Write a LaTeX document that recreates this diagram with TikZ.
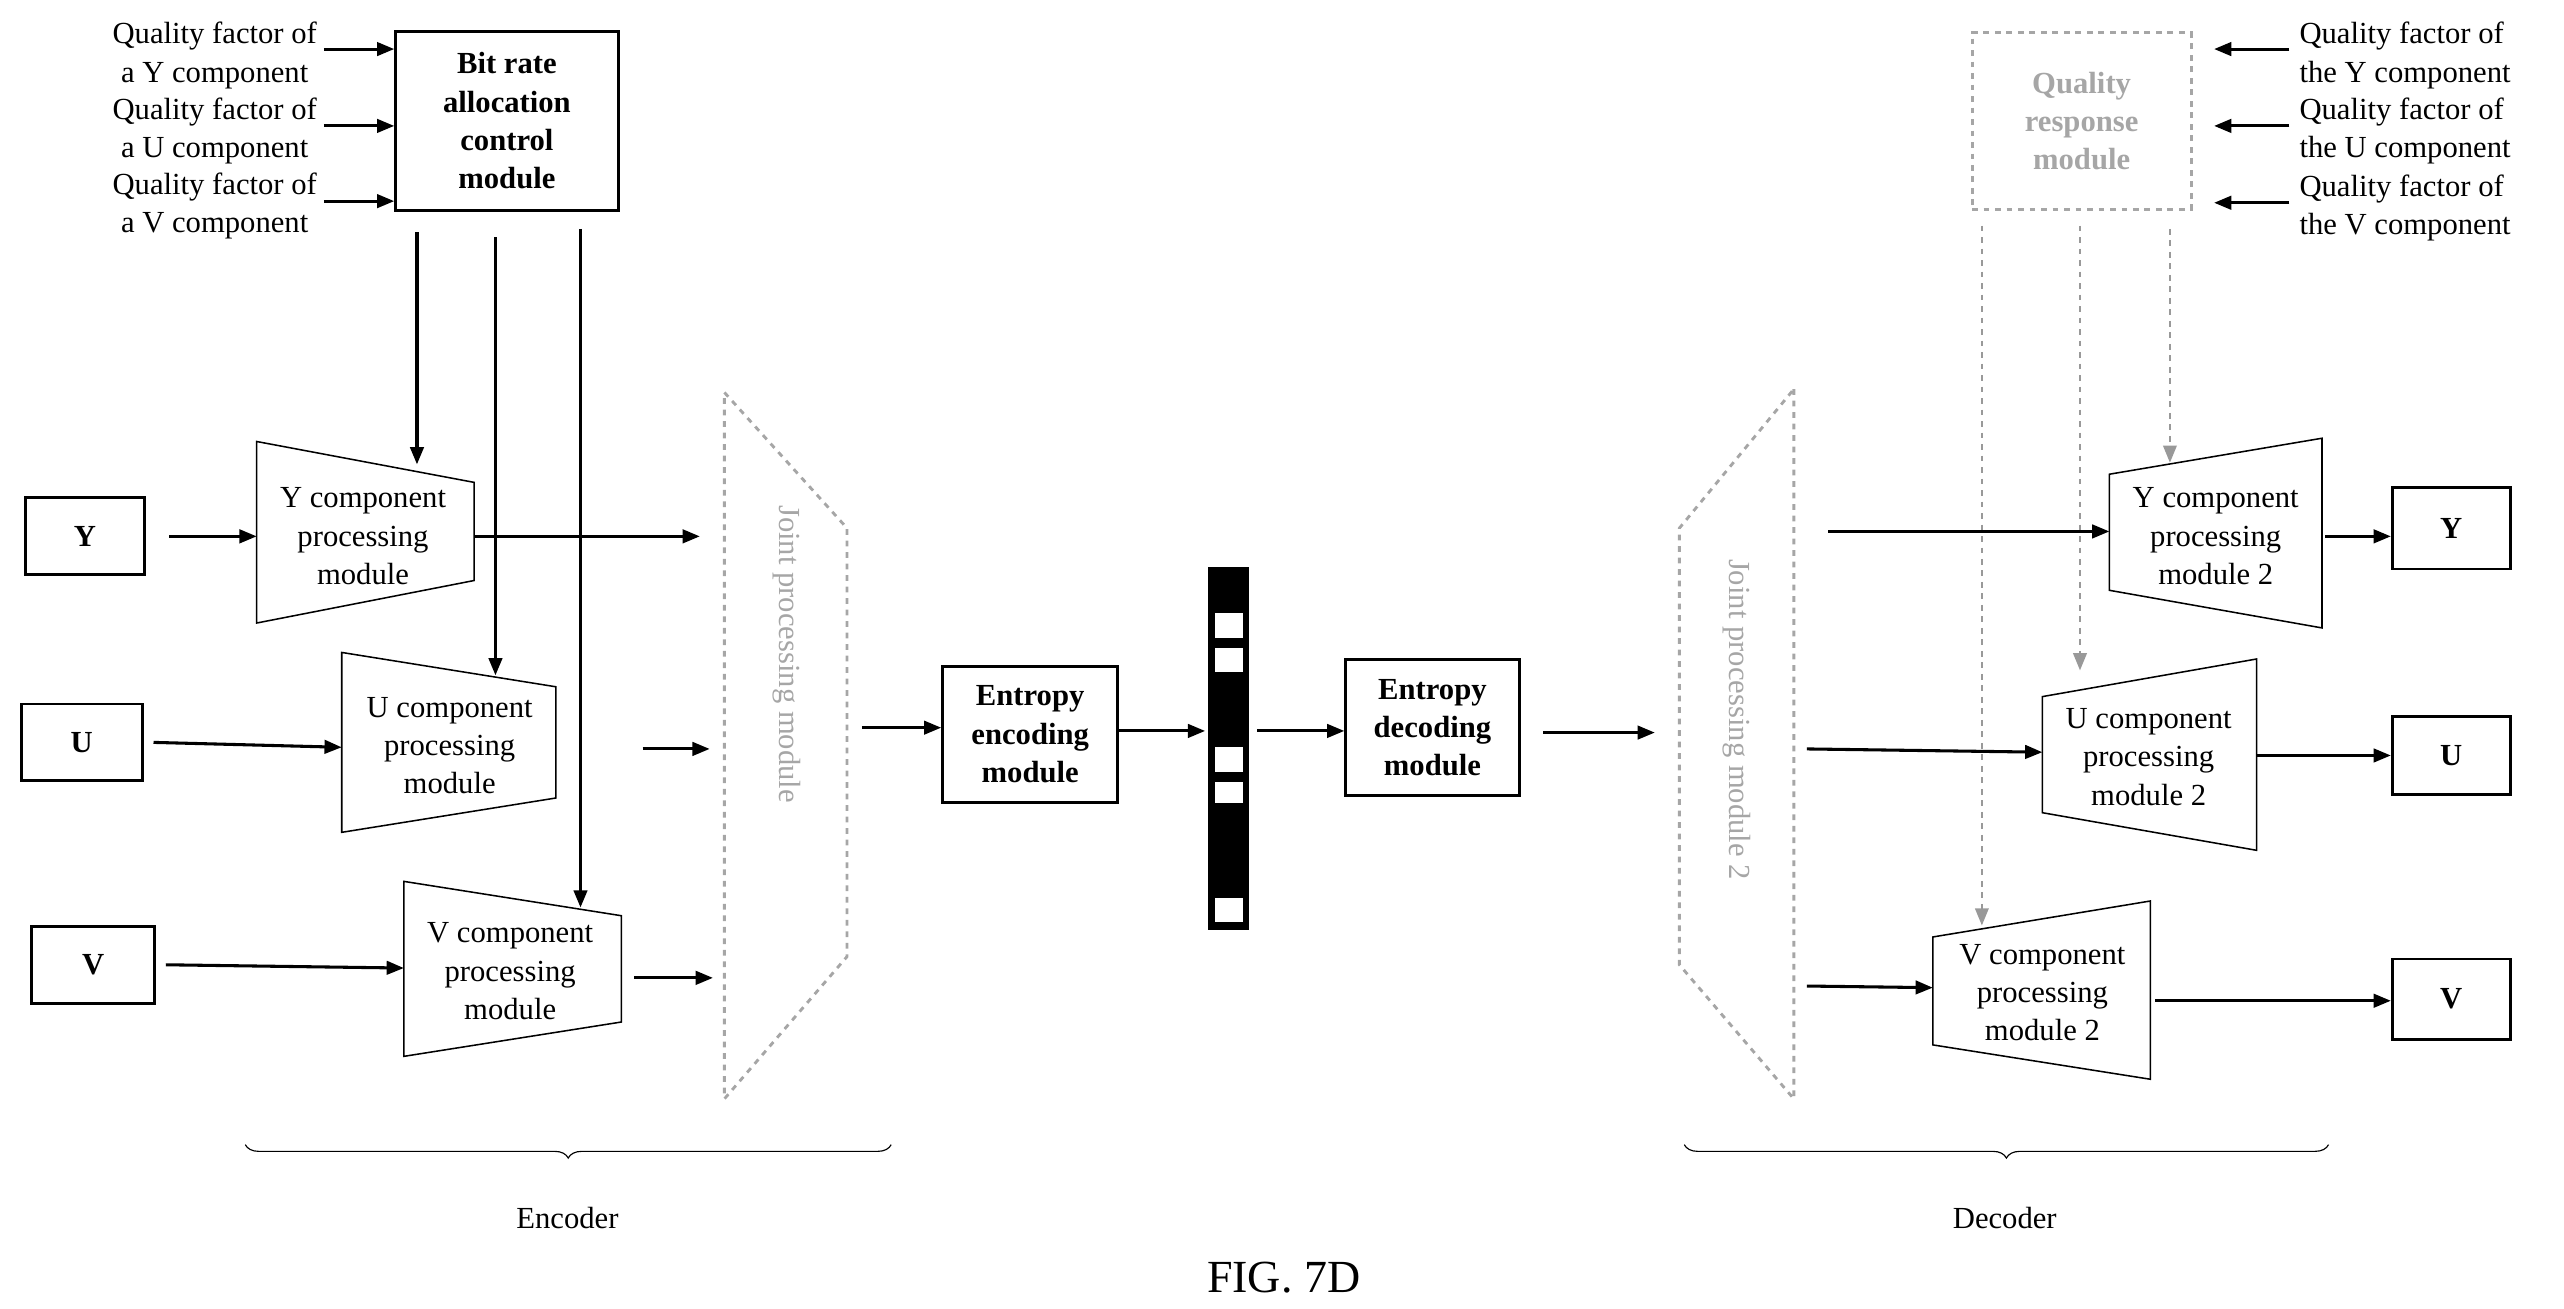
\documentclass[tikz,border=0pt]{standalone}
\usepackage{fontspec}
\setmainfont{Liberation Serif}
\usetikzlibrary{positioning, arrows.meta, decorations.pathreplacing}
\tikzset{
  box/.style={rectangle, draw=black, line width=1.5pt, font=\fontsize{16}{20}\selectfont\bfseries, align=center, inner sep=0pt},
  gbox/.style={rectangle, draw=gray!70, dashed, line width=1.5pt, font=\fontsize{16}{20}\selectfont\bfseries, text=gray!70, align=center, inner sep=0pt},
  lbl/.style={align=center, inner sep=0pt},
  arr/.style={-{Triangle[length=9pt,width=7pt]}, line width=1.6pt},
  garr/.style={-{Triangle[length=9pt,width=7pt]}, line width=1.3pt, gray!80, dashed},
  trap/.style={draw=black, line width=0.8pt},
  joint/.style={draw=gray!70, dashed, line width=1.5pt},
}
\begin{document}
\begin{tikzpicture}[x=0.3mm, y=-0.3mm, font=\fontsize{16}{20}\selectfont]
\useasboundingbox (0,0) rectangle (1568,800);

% encoder inputs
\node[box, minimum width=136*0.3mm, minimum height=109*0.3mm] (bitrate) at (310,74) {Bit rate\\allocation\\control\\module};
\node[lbl, anchor=east] (qy) at (194,34) {Quality factor of\\a Y component};
\node[lbl, anchor=east] (qu) at (194,80) {Quality factor of\\a U component};
\node[lbl, anchor=east] (qv) at (194,126) {Quality factor of\\a V component};
\draw[arr] (198,30) -- (bitrate.west |- 0,30);
\draw[arr] (198,77) -- (bitrate.west |- 0,77);
\draw[arr] (198,123) -- (bitrate.west |- 0,123);

\node[box, minimum width=73*0.3mm, minimum height=47*0.3mm] (yin) at (52,328) {Y};
\node[box, minimum width=74*0.3mm, minimum height=47*0.3mm] (uin) at (50,454) {U};
\node[box, minimum width=75*0.3mm, minimum height=47*0.3mm] (vin) at (57,590) {V};

% component trapezoids
\draw[trap] (157,270) -- (290,295) -- (290,355) -- (157,381) -- cycle;
\node[lbl] (yproc) at (222,328) {Y component\\processing\\module};
\draw[trap] (209,399) -- (340,420) -- (340,488) -- (209,509) -- cycle;
\node[lbl] (uproc) at (275,456) {U component\\processing\\module};
\draw[trap] (247,539) -- (380,560) -- (380,625) -- (247,646) -- cycle;
\node[lbl] (vproc) at (312,594) {V component\\processing\\module};

\draw[arr] (yin.east) ++(14,0) -- (157,328);
\draw[arr] (uin.east) ++(6,0) -- (209,457);
\draw[arr] (vin.east) ++(6,0) -- (247,592);

\coordinate (yt) at (255,284);
\coordinate (ut) at (303,413);
\coordinate (vt) at (355,555);
\draw[arr] (255,142) -- (yt);
\draw[arr] (303,145) -- (ut);
\draw[arr] (355,140) -- (vt);

% joint processing module
\draw[joint] (443,240) -- (518,323) -- (518,585) -- (443,672) -- cycle;
\node[rotate=-90, text=gray!70] (joint) at (481,400) {Joint processing module};
\draw[arr] (290,328) -- (428,328);
\draw[arr] (393,458) -- (434,458);
\draw[arr] (388,598) -- (436,598);

% entropy coding
\node[box, minimum width=107*0.3mm, minimum height=83*0.3mm] (enc) at (630,449) {Entropy\\encoding\\module};
\draw[arr] (527,445) -- (enc.west |- 0,445);
\fill (739,347) rectangle (764,569);
\coordinate (barw) at (737,447);
\coordinate (bare) at (769,447);
\foreach \ya/\yb in {375/390, 396/411, 457/472, 478/491, 549/564}
  \fill[white] (743,\ya) rectangle (760,\yb);
\draw[arr] (enc.east |- 0,447) -- (barw);
\node[box, minimum width=106*0.3mm, minimum height=83*0.3mm] (dec) at (876,445) {Entropy\\decoding\\module};
\draw[arr] (bare) -- (dec.west |- 0,447);
\draw[arr] (dec.east) ++(14,3) -- (1012,448);

% joint processing module 2
\draw[joint] (1097,238) -- (1097,672) -- (1027,590) -- (1027,323) -- cycle;
\node[rotate=-90, text=gray!70] (joint2) at (1062,440) {Joint processing module 2};

% decoder trapezoids
\draw[trap] (1290,290) -- (1420,268) -- (1420,384) -- (1290,361) -- cycle;
\node[lbl] (yproc2) at (1355,328) {Y component\\processing\\module 2};
\draw[trap] (1249,426) -- (1380,403) -- (1380,520) -- (1249,497) -- cycle;
\node[lbl] (uproc2) at (1314,463) {U component\\processing\\module 2};
\draw[trap] (1182,573) -- (1315,551) -- (1315,660) -- (1182,639) -- cycle;
\node[lbl] (vproc2) at (1249,607) {V component\\processing\\module 2};

\node[box, minimum width=72*0.3mm, minimum height=50*0.3mm] (yout) at (1499,323) {Y};
\node[box, minimum width=72*0.3mm, minimum height=48*0.3mm] (uout) at (1499,462) {U};
\node[box, minimum width=72*0.3mm, minimum height=49*0.3mm] (vout) at (1499,611) {V};
\draw[arr] (1118,325) -- (1290,325);
\draw[arr] (1105,458) -- (1249,460);
\draw[arr] (1105,603) -- (1182,604);
\draw[arr] (1422,328) -- (yout.west |- 0,328);
\draw[arr] (1380,462) -- (uout.west);
\draw[arr] (1318,612) -- (vout.west |- 0,612);

% quality response
\node[gbox, minimum width=134*0.3mm, minimum height=108*0.3mm] (qresp) at (1273,74) {Quality\\response\\module};
\node[lbl, anchor=west, align=left] (qy2) at (1406,34) {Quality factor of\\the Y component};
\node[lbl, anchor=west, align=left] (qu2) at (1406,80) {Quality factor of\\the U component};
\node[lbl, anchor=west, align=left] (qv2) at (1406,127) {Quality factor of\\the V component};
\draw[arr] (1400,30) -- (1354,30);
\draw[arr] (1400,77) -- (1354,77);
\draw[arr] (1400,124) -- (1354,124);
\draw[garr] (1327,140) -- (1327,283);
\draw[garr] (1272,138) -- (1272,410);
\draw[garr] (1212,138) -- (1212,566);

% braces
\draw[decorate, decoration={brace, mirror, amplitude=7pt}, line width=0.6pt] (150,700) -- (545,700);
\node (encoder) at (347,745) {Encoder};
\draw[decorate, decoration={brace, mirror, amplitude=7pt}, line width=0.6pt] (1030,700) -- (1424,700);
\node (decoder) at (1226,745) {Decoder};
\node[font=\fontsize{24}{28}\selectfont] (fig) at (785,781) {FIG. 7D};
\end{tikzpicture}
\end{document}
